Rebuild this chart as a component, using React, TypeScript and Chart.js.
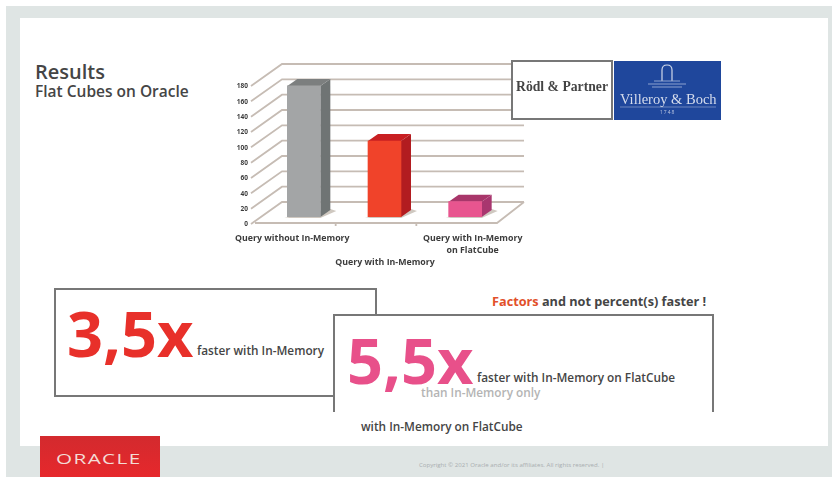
import React, { useEffect, useRef } from "react";
import { Chart, registerables } from "chart.js";

Chart.register(...registerables);

const categories: string[][] = [
  ["Query without In-Memory"],
  ["", "", "Query with In-Memory"],
  ["Query with In-Memory", "on FlatCube"],
];
const seriesValues = [171, 99, 20];
const yTickMax = 180;
const yTickStep = 20;
const labelShift = [-3, 9, 16];
const frontColors = ["#a3a5a6", "#f0432a", "#e8558f"];
const sideColors = ["#6f7474", "#b21c20", "#a8366f"];
const topColors = ["#7c7f7f", "#c81f22", "#a8366a"];

const GRID = "#c6bcb4";
const DEPTH_X = 27;
const DEPTH_Y = 21;
const BAR_DX = 8.5;
const BAR_DY = -6;
const SIDE_X = 10;
const SIDE_Y = 7;

const wallPlugin = {
  id: "wall",
  beforeDraw(chart: any) {
    const { x: xs, y: ys } = chart.scales;
    xs.getLabelItems(chart.chartArea).forEach((item: any, i: number) => {
      item.options.translation[0] += labelShift[i];
    });
    ys.getLabelItems(chart.chartArea).forEach((item: any) => {
      item.options.translation[1] += 1.5;
    });
  },
  beforeDatasetsDraw(chart: any) {
    const { ctx, chartArea, scales } = chart;
    const ys = scales.y;
    const { left, right, bottom } = chartArea;
    ctx.save();
    ctx.strokeStyle = GRID;
    ctx.lineWidth = 1.8;
    ys.ticks.forEach((t: any) => {
      const py = ys.getPixelForValue(t.value);
      ctx.beginPath();
      ctx.moveTo(left - 4, py + 1);
      ctx.lineTo(left + DEPTH_X, py - DEPTH_Y);
      ctx.lineTo(right + DEPTH_X, py - DEPTH_Y);
      ctx.stroke();
    });
    ctx.beginPath();
    ctx.moveTo(left, bottom);
    ctx.lineTo(right, bottom);
    ctx.lineTo(right + DEPTH_X, bottom - DEPTH_Y);
    ctx.stroke();
    const step = (right - left) / categories.length;
    for (let i = 1; i < categories.length; i++) {
      ctx.beginPath();
      ctx.moveTo(left + step * i, bottom);
      ctx.lineTo(left + step * i, bottom + 3);
      ctx.stroke();
    }
    ctx.restore();
  },
  beforeDatasetDraw(chart: any, args: any) {
    const { ctx } = chart;
    ctx.save();
    ctx.translate(BAR_DX, BAR_DY);
    args.meta.data.forEach((bar: any, i: number) => {
      const p = bar.getProps(["x", "y", "base", "width"], true);
      const l = p.x - p.width / 2;
      const r = p.x + p.width / 2;
      ctx.fillStyle = "#cfc8c0";
      ctx.beginPath();
      ctx.moveTo(l - 3, p.base + 1);
      ctx.lineTo(r, p.base + 1);
      ctx.lineTo(r + SIDE_X + 6, p.base - SIDE_Y + 1);
      ctx.lineTo(r + SIDE_X, p.base - SIDE_Y - 1);
      ctx.closePath();
      ctx.fill();
      ctx.fillStyle = sideColors[i];
      ctx.beginPath();
      ctx.moveTo(r, p.y);
      ctx.lineTo(r + SIDE_X, p.y - SIDE_Y);
      ctx.lineTo(r + SIDE_X, p.base - SIDE_Y);
      ctx.lineTo(r, p.base);
      ctx.closePath();
      ctx.fill();
      ctx.fillStyle = topColors[i];
      ctx.beginPath();
      ctx.moveTo(l, p.y);
      ctx.lineTo(l + SIDE_X, p.y - SIDE_Y);
      ctx.lineTo(r + SIDE_X, p.y - SIDE_Y);
      ctx.lineTo(r, p.y);
      ctx.closePath();
      ctx.fill();
    });
  },
  afterDatasetDraw(chart: any) {
    chart.ctx.restore();
  },
};

const font = "'Open Sans', sans-serif";
const place = (left: number, top: number, extra: React.CSSProperties = {}): React.CSSProperties => ({
  position: "absolute",
  left,
  top,
  whiteSpace: "nowrap",
  fontFamily: font,
  ...extra,
});

export default function App() {
  const ref = useRef<HTMLCanvasElement>(null);
  useEffect(() => {
    const chart = new Chart(ref.current as HTMLCanvasElement, {
      type: "bar",
      data: {
        labels: categories,
        datasets: [
          { data: seriesValues, backgroundColor: frontColors, barThickness: 33, borderWidth: 0 },
        ],
      },
      plugins: [wallPlugin],
      options: {
        animation: false,
        responsive: false,
        events: [],
        layout: { padding: { left: 5, right: 43, top: 30, bottom: 2 } },
        plugins: { legend: { display: false }, tooltip: { enabled: false } },
        scales: {
          x: {
            afterFit: (s: any) => { s.height = 50; },
            grid: { display: false, drawTicks: false },
            border: { display: false },
            ticks: {
              autoSkip: false,
              maxRotation: 0,
              minRotation: 0,
              padding: 10,
              color: "#3c3c3c",
              font: { family: font, size: 8.8, weight: "bold", lineHeight: 1.36 },
            },
          },
          y: {
            min: 0,
            max: yTickMax,
            afterFit: (s: any) => { s.width = 30; },
            grid: { display: false, drawTicks: false },
            border: { display: false },
            ticks: {
              stepSize: yTickStep,
              padding: 7,
              color: "#3c3c3c",
              font: { family: font, size: 6.5, weight: "bold" },
            },
          },
        },
      },
    } as any);
    return () => chart.destroy();
  }, []);

  const dark = "#454545";
  return (
    <div style={{ position: "absolute", left: 0, top: 0, width: 835, height: 477, overflow: "hidden", background: "#fff", filter: "blur(0.6px)" }}>
      <div style={{ position: "absolute", left: 6, top: 6, width: 826, height: 471, background: "#dfe5e4" }} />
      <div style={{ position: "absolute", left: 20, top: 18, width: 808, height: 428, background: "#fff" }} />

      <div style={place(35, 61, { fontSize: 20, lineHeight: "21px", fontWeight: 600, color: dark })}>Results</div>
      <div style={place(35, 83, { fontSize: 15.5, lineHeight: "17px", fontWeight: 600, color: dark })}>Flat Cubes on Oracle</div>

      <canvas ref={ref} width={320} height={220} style={{ position: "absolute", left: 220, top: 55, width: 320, height: 220 }} />

      <div style={{ position: "absolute", left: 511, top: 60, width: 102, height: 60, boxSizing: "border-box", border: "2px solid #777", background: "#fff" }} />
      <div style={place(516, 79, { fontFamily: "'Liberation Serif', serif", fontSize: 13.7, lineHeight: "16px", color: "#444", fontWeight: 600 })}>Rödl &amp; Partner</div>
      <div style={{ position: "absolute", left: 614, top: 61, width: 107, height: 59, background: "#1f479c" }} />
      <svg style={{ position: "absolute", left: 614, top: 61 }} width={107} height={59}>
        <path d="M48 20 V9 Q48 4 53 4 Q58 4 58 9 V20" fill="none" stroke="#cfd8ea" strokeWidth={1.2} />
        <path d="M34 23 H72 M40 20 H66 M38 26 H68" stroke="#8ea2cf" strokeWidth={1} />
        <path d="M6 46 H102" stroke="#8ea2cf" strokeWidth={0.7} />
      </svg>
      <div style={place(620, 91, { fontFamily: "'Liberation Serif', serif", fontSize: 14.5, lineHeight: "16px", color: "#d5dcec" })}>Villeroy &amp; Boch</div>
      <div style={place(660, 109, { fontSize: 5, lineHeight: "7px", letterSpacing: 1, color: "#b8c4e0" })}>1748</div>

      <div style={{ position: "absolute", left: 54, top: 288, width: 323, height: 109, boxSizing: "border-box", border: "2px solid #777", background: "#fff" }} />
      <div style={place(67, 300, { fontSize: 63, lineHeight: "66px", fontWeight: 700, color: "#e8302a" })}>3,5x</div>
      <div style={place(197, 342, { fontSize: 11.8, lineHeight: "16px", fontWeight: 600, color: dark })}>faster with In-Memory</div>

      <div style={place(492, 293, { fontSize: 12.7, lineHeight: "16px", fontWeight: 700, color: dark })}>
        <span style={{ color: "#e2502a" }}>Factors</span> and not percent(s) faster !
      </div>

      <div style={{ position: "absolute", left: 333, top: 314, width: 381, height: 98, boxSizing: "border-box", borderTop: "2px solid #777", borderLeft: "2px solid #777", borderRight: "2px solid #777", background: "#fff" }} />
      <div style={place(347, 335, { fontSize: 63, lineHeight: "50px", fontWeight: 700, color: "#e8508a" })}>5,5x</div>
      <div style={place(477, 369, { fontSize: 11.8, lineHeight: "16px", fontWeight: 600, color: dark })}>faster with In-Memory on FlatCube</div>
      <div style={place(421, 385, { fontSize: 11.8, lineHeight: "14px", fontWeight: 600, color: "#b4b4b4" })}>than In-Memory only</div>
      <div style={place(361, 418, { fontSize: 11.8, lineHeight: "16px", fontWeight: 600, color: dark })}>with In-Memory on FlatCube</div>

      <div style={{ position: "absolute", left: 40, top: 436, width: 120, height: 41, background: "linear-gradient(#d32a2e, #e6282c)" }} />
      <div style={place(56, 449, { fontSize: 15, lineHeight: "18px", fontWeight: 500, letterSpacing: 1, color: "#f3dcd6", transform: "scaleX(1.38)", transformOrigin: "left" })}>ORACLE</div>
      <div style={place(419, 461, { fontSize: 6.1, lineHeight: "8px", color: "#a9aeb0" })}>Copyright © 2021 Oracle and/or its affiliates. All rights reserved.  |</div>
    </div>
  );
}
